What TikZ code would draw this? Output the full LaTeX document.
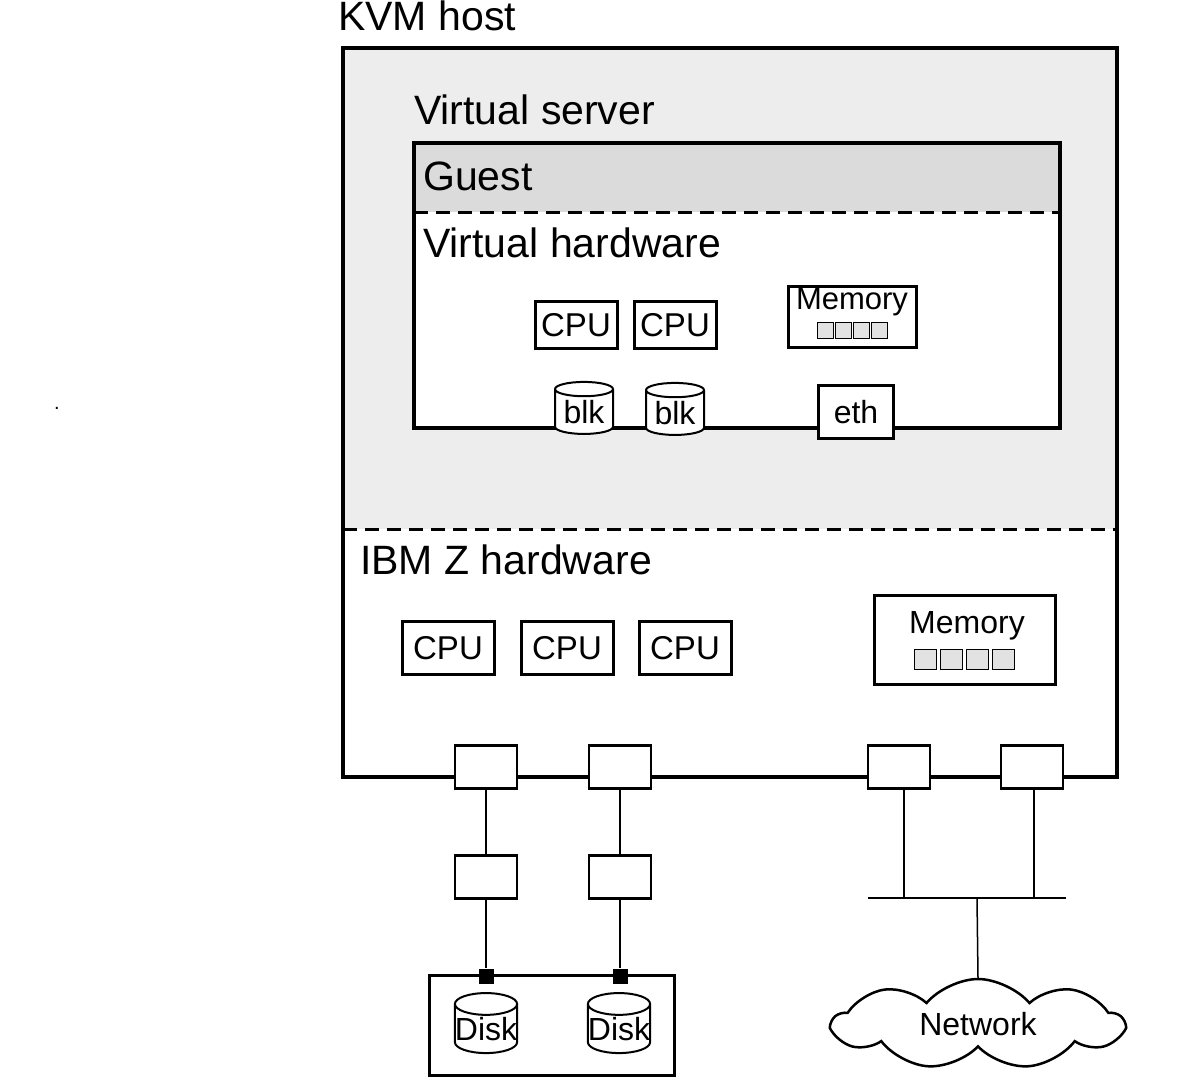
\documentclass[tikz,border=0pt]{standalone}
\usepackage{fontspec}
\setmainfont{Liberation Sans}
\usetikzlibrary{calc}
\usetikzlibrary{shapes}
\definecolor{hostgrey}{RGB}{236,237,236}
\definecolor{guestgrey}{RGB}{218,219,218}
\definecolor{cellgrey}{RGB}{225,226,225}
\tikzset{
  box/.style={draw, line width=3pt, fill=white, inner sep=0pt},
  port/.style={draw, line width=2.5pt, fill=white, minimum width=62pt, minimum height=43pt, inner sep=0pt},
  can/.style={draw, line width=2pt, fill=white, cylinder, shape border rotate=90, aspect=0.35, inner sep=0pt},
  lbl/.style={inner sep=0pt, anchor=west},
  wire/.style={line width=1.5pt},
  cell/.style={draw, line width=0.8pt, fill=cellgrey, inner sep=0pt}
}
\newcommand{\cpu}[5]{\node[box, minimum width=#3, minimum height=#4, font=\fontsize{33}{33}\selectfont] (#1) at #2 {#5};}
\newcommand{\memcells}[5]{\foreach \i in {0,...,3} {\node[cell, minimum width=#3, minimum height=#5] (#1\i) at ($#2+(\i*#4,0)$) {};}}
\begin{document}
\begin{tikzpicture}[x=1pt,y=-1pt]
        \useasboundingbox (0,0) rectangle (1196,1077);
        % host
        \fill[hostgrey] (343,48) rectangle (1117,529);
        \draw[line width=3.5pt] (343,48) rectangle (1117,777);
        \draw[line width=3pt, dash pattern=on 14pt off 8pt] (343,529) -- (1117,529);
        \node[lbl, font=\fontsize{41}{41}\selectfont] (host) at (338,16) {KVM host};
        \node[lbl, font=\fontsize{41}{41}\selectfont] (vs) at (414,110) {Virtual server};
        \node[lbl, font=\fontsize{41}{41}\selectfont] (ibmz) at (360,560) {IBM Z hardware};
        \node[font=\fontsize{20}{20}\selectfont] (dot) at (57,408) {.};

        % virtual server
        \fill[white] (414,143) rectangle (1060,428);
        \fill[guestgrey] (414,143) rectangle (1060,212);
        \draw[line width=3.5pt] (414,143) rectangle (1060,428);
        \draw[line width=3pt, dash pattern=on 14pt off 8pt] (414,212) -- (1060,212);
        \node[lbl, font=\fontsize{41}{41}\selectfont] (guest) at (423,176) {Guest};
        \node[lbl, font=\fontsize{41}{41}\selectfont] (vhw) at (423,243) {Virtual hardware};

        % virtual cpus and memory
        \cpu{vcpu1}{(576,325)}{82pt}{47pt}{CPU}
        \cpu{vcpu2}{(675,325)}{82pt}{47pt}{CPU}
        \node[box, minimum width=128pt, minimum height=61pt] (vmem) at (852,317) {};
        \node[font=\fontsize{31}{31}\selectfont] (vmemt) at (852,302) {Memory};
        \memcells{vc}{(825,330)}{16pt}{18}{16pt}

        % virtual devices
        \node[can, minimum width=58pt, minimum height=52pt, font=\fontsize{32}{32}\selectfont] (blk1) at (584,412) {blk};
        \node[can, minimum width=58pt, minimum height=52pt, font=\fontsize{32}{32}\selectfont] (blk2) at (675,413) {blk};
        \node[box, minimum width=75pt, minimum height=53pt, font=\fontsize{32}{32}\selectfont] (eth) at (856,412) {eth};

        % real cpus and memory
        \cpu{cpu1}{(448,648)}{92pt}{53pt}{CPU}
        \cpu{cpu2}{(567,648)}{92pt}{53pt}{CPU}
        \cpu{cpu3}{(685,648)}{92pt}{53pt}{CPU}
        \node[box, minimum width=181pt, minimum height=89pt] (mem) at (965,640) {};
        \node[font=\fontsize{32}{32}\selectfont] (memt) at (967,626) {Memory};
        \memcells{rc}{(925,659)}{22pt}{26}{20pt}

        % ports
        \node[port] (p1) at (486,767) {};
        \node[port] (p2) at (620,767) {};
        \node[port] (p3) at (899,767) {};
        \node[port] (p4) at (1032,767) {};
        \node[port] (s1) at (486,877) {};
        \node[port] (s2) at (620,877) {};

        % storage
        \node[box, minimum width=245pt, minimum height=100pt] (stor) at (552,1025) {};
        \node[fill=black, minimum size=15pt, inner sep=0pt] (c1) at (486,976) {};
        \node[fill=black, minimum size=15pt, inner sep=0pt] (c2) at (620,976) {};
        \node[can, minimum width=62pt, minimum height=60pt, font=\fontsize{32}{32}\selectfont] (d1) at (486,1029) {Disk};
        \node[can, minimum width=62pt, minimum height=60pt, font=\fontsize{32}{32}\selectfont] (d2) at (619,1029) {Disk};
        \draw[wire] (p1) -- (s1);
        \draw[wire] (s1) -- (c1);
        \draw[wire] (p2) -- (s2);
        \draw[wire] (s2) -- (c2);

        % network
        \coordinate (bl) at (868,898);
        \coordinate (br) at (1066,898);
        \draw[line width=2.5pt] (bl) -- (br);
        \draw[wire] (p3.south -| 904,0) -- (904,898);
        \draw[wire] (p4.south -| 1034,0) -- (1034,898);
        \node[cloud, cloud puffs=9, cloud puff arc=100, aspect=2.8, draw, line width=2.5pt, fill=white, minimum width=290pt, minimum height=90pt, font=\fontsize{32}{32}\selectfont] (net) at (978,1024) {Network};
        \draw[wire] (977,898) -- (net.north);
\end{tikzpicture}
\end{document}
